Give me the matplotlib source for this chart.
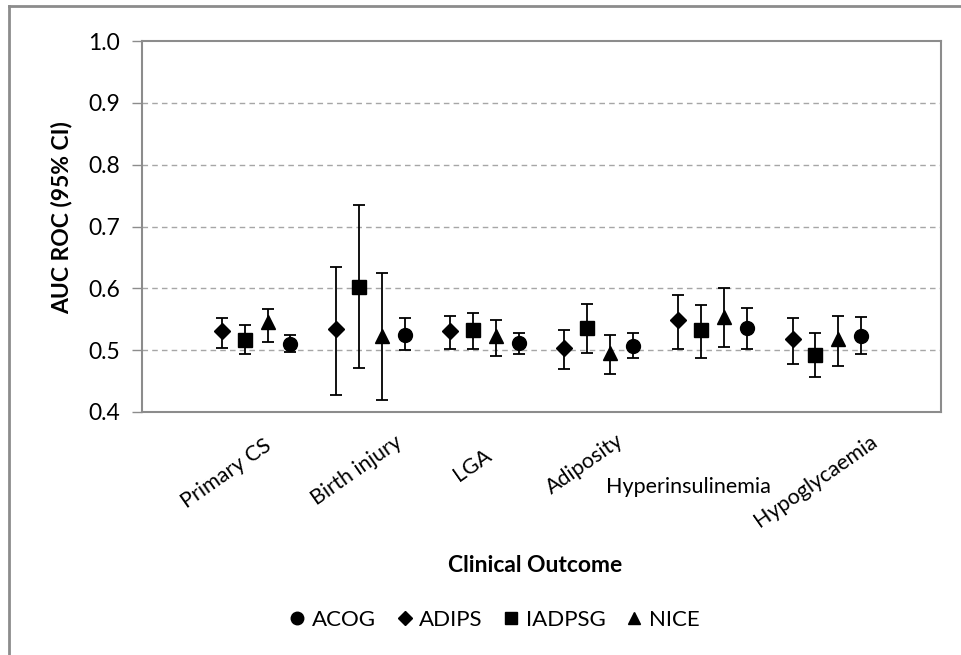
import matplotlib
matplotlib.use('Agg')
import matplotlib.pyplot as plt
import matplotlib.transforms as mtransforms
from matplotlib.lines import Line2D
import numpy as np

plt.rcParams['font.family'] = ['Lato', 'DejaVu Sans']

outcomes = ['Primary CS', 'Birth injury', 'LGA', 'Adiposity', 'Hyperinsulinemia', 'Hypoglycaemia']

# AUC ROC point estimates and 95% CI bounds
adips = [0.531, 0.534, 0.531, 0.504, 0.548, 0.518]
adips_lo = [0.504, 0.427, 0.502, 0.470, 0.502, 0.477]
adips_hi = [0.552, 0.635, 0.556, 0.533, 0.589, 0.552]

iadpsg = [0.517, 0.602, 0.532, 0.536, 0.532, 0.492]
iadpsg_lo = [0.493, 0.471, 0.502, 0.496, 0.487, 0.457]
iadpsg_hi = [0.540, 0.735, 0.560, 0.575, 0.573, 0.528]

nice = [0.545, 0.523, 0.523, 0.496, 0.553, 0.518]
nice_lo = [0.514, 0.419, 0.491, 0.462, 0.505, 0.475]
nice_hi = [0.566, 0.625, 0.548, 0.525, 0.600, 0.556]

acog = [0.510, 0.525, 0.511, 0.507, 0.536, 0.523]
acog_lo = [0.497, 0.500, 0.493, 0.487, 0.502, 0.493]
acog_hi = [0.525, 0.552, 0.527, 0.527, 0.568, 0.554]

series = [
    ('ADIPS', 'D', 8.5, -0.3, adips, adips_lo, adips_hi),
    ('IADPSG', 's', 10, -0.1, iadpsg, iadpsg_lo, iadpsg_hi),
    ('NICE', '^', 10, 0.1, nice, nice_lo, nice_hi),
    ('ACOG', 'o', 10, 0.3, acog, acog_lo, acog_hi),
]

fig = plt.figure(figsize=(9.62, 6.55), dpi=100)
ax = fig.add_axes([142 / 962, 1 - 412 / 655, 799 / 962, 371 / 655])

x = np.arange(1, len(outcomes) + 1)
for name, mk, ms, off, val, lo, hi in series:
    val = np.array(val)
    yerr = [val - np.array(lo), np.array(hi) - val]
    ax.errorbar(x + off, val, yerr=yerr, fmt=mk, color='black', markersize=ms,
                ecolor='black', elinewidth=1.3, capsize=4, capthick=1.3, zorder=3)

ax.set_xlim(0, len(outcomes) + 1)
ax.set_ylim(0.4, 1.0)
ax.set_yticks(np.arange(0.4, 1.01, 0.1))
ax.set_yticklabels(['%.1f' % v for v in np.arange(0.4, 1.01, 0.1)], fontsize=16.5)
ax.set_xticks([])
for yv in np.arange(0.5, 0.95, 0.1):
    ax.axhline(yv, color='#a6a6a6', linestyle=(0, (4, 3)), linewidth=1, zorder=1)

for s in ax.spines.values():
    s.set_color('#8c8c8c')
    s.set_linewidth(1.5)
ax.tick_params(axis='y', length=7, width=1, color='#8c8c8c', pad=9)

# category labels (Excel style placement)
label_dx = [-30, -14, -12, -14, -24, -11]
label_dy = [62, 58, 53, 52, 75, 69]
label_rot = [35, 35, 35, 35, 0, 35]
for i, lab in enumerate(outcomes):
    tr = ax.get_xaxis_transform() + mtransforms.ScaledTranslation(
        label_dx[i] / 100, -label_dy[i] / 100, fig.dpi_scale_trans)
    ax.text(x[i], 0, lab, transform=tr, rotation=label_rot[i], rotation_mode='anchor',
            ha='center', va='center', fontsize=15.5)

ax.text(-0.101, 0.523, 'AUC ROC (95% CI)', transform=ax.transAxes, rotation=90,
        ha='center', va='center', fontsize=16.5, fontweight='bold')
ax.text(0.492, -0.415, 'Clinical Outcome', transform=ax.transAxes,
        ha='center', va='center', fontsize=16.5, fontweight='bold')

handles = [Line2D([], [], marker=m, color='black', linestyle='none', markersize=s)
           for m, s in [('o', 9), ('D', 7), ('s', 9), ('^', 9)]]
fig.legend(handles, ['ACOG', 'ADIPS', 'IADPSG', 'NICE'], loc='center',
           bbox_to_anchor=(495 / 962, 1 - 620 / 655), ncol=4, frameon=False,
           fontsize=16, handlelength=0.6, handletextpad=0.35, columnspacing=1.0)

# outer chart border (only top and left edges visible)
fig.add_artist(Line2D([9 / 962, 9 / 962], [0, 1 - 6 / 655], transform=fig.transFigure,
                      color='#8c8c8c', linewidth=2))
fig.add_artist(Line2D([9 / 962, 1], [1 - 6 / 655, 1 - 6 / 655], transform=fig.transFigure,
                      color='#8c8c8c', linewidth=2))

fig.savefig('out.png', dpi=100)
